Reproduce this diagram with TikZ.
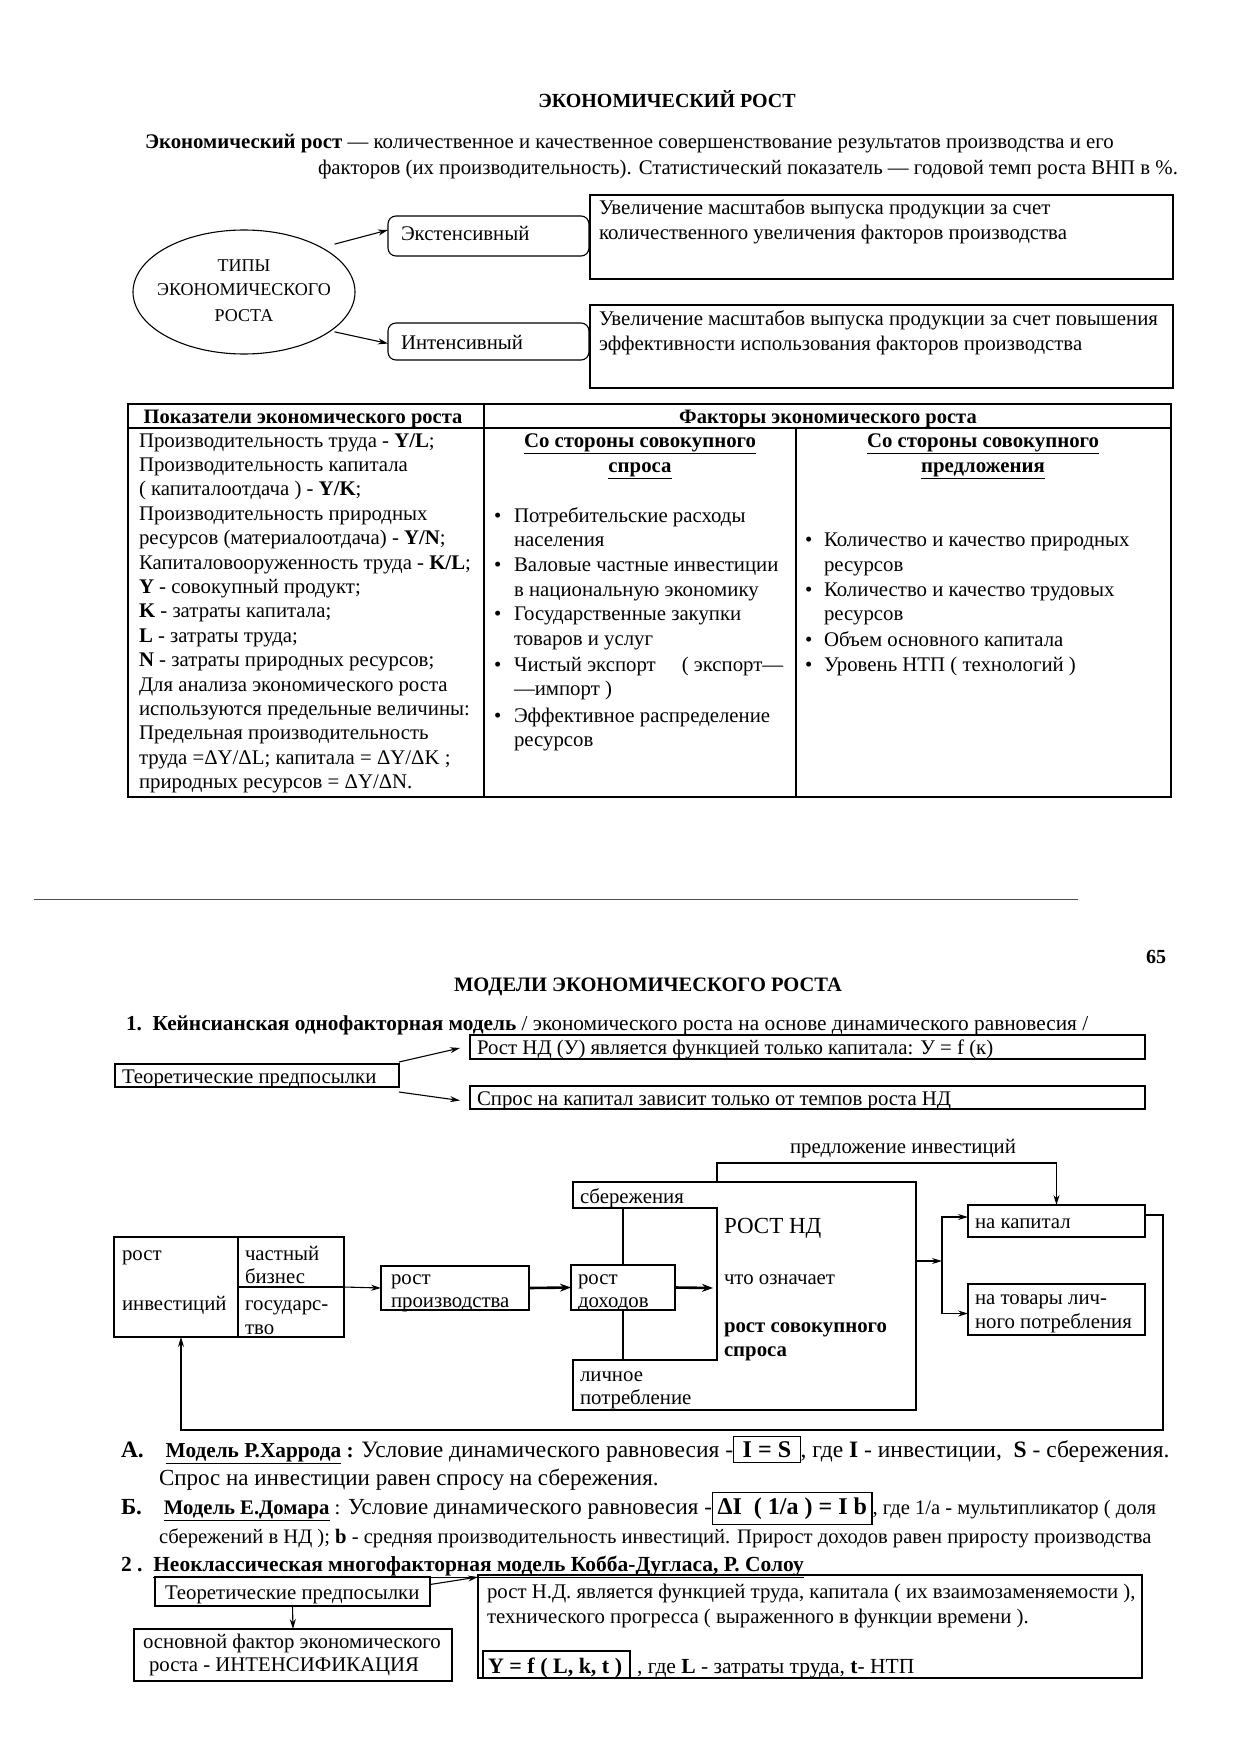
\documentclass[tikz,border=0pt]{standalone}
\usepackage{fontspec}
\setmainfont{Liberation Serif}
\usetikzlibrary{shapes.geometric,arrows.meta,calc}
\setlength\fboxsep{2pt}
\setlength\fboxrule{1.1pt}
\newcommand\bodyfont{\fontsize{20.8}{24}\selectfont}
\newcommand\bigfont{\fontsize{23}{27}\selectfont}
\newcommand\namefont{\fontsize{20.7}{24}\selectfont}
\newcommand\eqbox[1]{{\setlength\fboxsep{4.5pt}\fbox{\fontsize{24}{28}\selectfont\textbf{#1}}}}
\begin{document}
\begin{tikzpicture}[x=1pt,y=-1pt,
  every node/.style={inner sep=0pt, outer sep=0pt},
  txt/.style={anchor=base west, font=\bodyfont},
  ctxt/.style={anchor=base, font=\bodyfont},
  rtxt/.style={anchor=base east, font=\bodyfont},
  box/.style={draw, line width=1.1pt},
  ln/.style={line width=1.1pt},
  arr/.style={-{Stealth[length=10pt,width=6pt]}, line width=1.1pt},
  tharr/.style={-{Stealth[length=11pt,width=8pt]}, line width=2.6pt},
]
\useasboundingbox[fill=white] (0,0) rectangle (1240,1752);

% ---------- Part 1 ----------
\node[ctxt, font=\bfseries\fontsize{20}{24}\selectfont] (title) at (667,108) {ЭКОНОМИЧЕСКИЙ РОСТ};
\node[txt] (def1) at (145,149) {\textbf{Экономический рост} — количественное и качественное совершенствование результатов производства и его};
\node[rtxt] (def2) at (1178,175) {факторов (их производительность). Статистический показатель — годовой темп роста ВНП в \%.};

\node[draw, ellipse, line width=1.1pt, minimum width=222, minimum height=124] (ell) at (244,292) {};
\node[ctxt, font=\fontsize{18}{22}\selectfont] (e1) at (244,272) {ТИПЫ};
\node[ctxt, font=\fontsize{18}{22}\selectfont] (e2) at (244,296) {ЭКОНОМИЧЕСКОГО};
\node[ctxt, font=\fontsize{18}{22}\selectfont] (e3) at (244,321) {РОСТА};

\node[box, rounded corners=8pt, minimum width=201, minimum height=40] (ext) at (488.5,236) {};
\node[txt] (extT) at (401,241) {Экстенсивный};
\node[box, rounded corners=8pt, minimum width=201, minimum height=37] (int) at (488.5,341.5) {};
\node[txt] (intT) at (401,349) {Интенсивный};

\node[box, minimum width=583, minimum height=84] (d1) at (881.5,237) {};
\node[txt] (d1a) at (599,215) {Увеличение масштабов выпуска продукции за счет};
\node[txt] (d1b) at (599,240) {количественного увеличения факторов производства};
\node[box, minimum width=583, minimum height=83] (d2) at (881.5,346.5) {};
\node[txt] (d2a) at (599,325) {Увеличение масштабов выпуска продукции за счет повышения};
\node[txt] (d2b) at (599,350) {эффективности использования факторов производства};

\draw[arr] (ell.north east) ++(12,-4) coordinate (ea) -- ($(ext.west)+(0,-6)$);
\draw[arr] (ell.south east) ++(12,-4) coordinate (eb) -- ($(int.west)+(0,2)$);

% ---------- Table ----------
\draw[line width=1.1pt] (128,404) rectangle (1171,797);
\draw[line width=2pt] (128,404) -- (1171,404);
\draw[line width=2pt] (128,797) -- (1171,797);
\draw[ln] (128,428) -- (1171,428);
\draw[ln] (484,404) -- (484,797);
\draw[ln] (796,428) -- (796,797);

\node[ctxt, font=\bfseries\fontsize{20.5}{24}\selectfont] (h1) at (303,423) {Показатели экономического роста};
\node[ctxt, font=\bfseries\fontsize{20.5}{24}\selectfont] (h2) at (828,423) {Факторы экономического роста};

\node[txt] (L1) at (139,447) {Производительность труда - \textbf{Y/L};};
\node[txt] (L2) at (139,471.4) {Производительность капитала};
\node[txt] (L3) at (139,495.8) {( капиталоотдача ) - \textbf{Y/K};};
\node[txt] (L4) at (139,520.2) {Производительность природных};
\node[txt] (L5) at (139,544.6) {ресурсов (материалоотдача) - \textbf{Y/N};};
\node[txt] (L6) at (139,569) {Капиталовооруженность труда - \textbf{K/L};};
\node[txt] (L7) at (139,593.4) {\textbf{Y} - совокупный продукт;};
\node[txt] (L8) at (139,617.8) {\textbf{K} - затраты капитала;};
\node[txt] (L9) at (139,642.2) {\textbf{L} - затраты труда;};
\node[txt] (L10) at (139,666.6) {\textbf{N} - затраты природных ресурсов;};
\node[txt] (L11) at (139,691) {Для анализа экономического роста};
\node[txt] (L12) at (139,715.4) {используются предельные величины:};
\node[txt] (L13) at (139,739.8) {Предельная производительность};
\node[txt] (L14) at (139,764.2) {труда =ΔY/ΔL; капитала = ΔY/ΔK ;};
\node[txt] (L15) at (139,788.6) {природных ресурсов = ΔY/ΔN.};

\node[ctxt, font=\bfseries\bodyfont] (m1) at (640,447) {\underline{Со стороны совокупного}};
\node[ctxt, font=\bfseries\bodyfont] (m2) at (640,472) {\underline{спроса}};
\node[ctxt, font=\bfseries\bodyfont] (r1h) at (983,447) {\underline{Со стороны совокупного}};
\node[ctxt, font=\bfseries\bodyfont] (r2h) at (983,472) {\underline{предложения}};

\foreach \yy/\nm in {522/b1,571/b2,620/b3,671/b4,722/b5}{\node[txt] (\nm) at (494,\yy) {•};}
\node[txt] (M1) at (514,522) {Потребительские расходы};
\node[txt] (M2) at (514,546) {населения};
\node[txt] (M3) at (514,571) {Валовые частные инвестиции};
\node[txt] (M4) at (514,596) {в национальную экономику};
\node[txt] (M5) at (514,620) {Государственные закупки};
\node[txt] (M6) at (514,645) {товаров и услуг};
\node[txt] (M7) at (514,671) {Чистый экспорт \quad( экспорт—};
\node[txt] (M8) at (514,695) {—импорт )};
\node[txt] (M9) at (514,722) {Эффективное распределение};
\node[txt] (M10) at (514,746) {ресурсов};

\foreach \yy/\nm in {546/c1,596/c2,646/c3,671/c4}{\node[txt] (\nm) at (805,\yy) {•};}
\node[txt] (R1) at (824,546) {Количество и качество природных};
\node[txt] (R2) at (824,571) {ресурсов};
\node[txt] (R3) at (824,596) {Количество и качество трудовых};
\node[txt] (R4) at (824,620) {ресурсов};
\node[txt] (R5) at (824,646) {Объем основного капитала};
\node[txt] (R6) at (824,671) {Уровень НТП ( технологий )};

% separator
\draw[line width=0.8pt, black!70] (34,899) -- (1078,899);

% ---------- Part 2 ----------
\node[ctxt, font=\bfseries\fontsize{20}{24}\selectfont] (pg) at (1156,963) {65};
\node[ctxt, font=\bfseries\fontsize{20.5}{24}\selectfont] (title2) at (648,991) {МОДЕЛИ ЭКОНОМИЧЕСКОГО РОСТА};
\node[txt, font=\fontsize{21.3}{25}\selectfont] (k1) at (126,1030) {\textbf{1.\ \ Кейнсианская однофакторная модель} / экономического роста на основе динамического равновесия /};

\node[box, minimum width=675, minimum height=24] (r1) at (807.5,1047) {};
\node[txt] (r1t) at (477,1054) {Рост НД (У) является функцией только капитала: У = f (к)};
\node[box, minimum width=284, minimum height=23] (tp) at (257,1075.5) {};
\node[txt] (tpt) at (122,1083) {Теоретические предпосылки};
\node[box, minimum width=675, minimum height=23] (r2) at (807.5,1097.5) {};
\node[txt] (r2t) at (477,1105) {Спрос на капитал зависит только от темпов роста НД};
\draw[arr] ($(tp.north east)+(0,-2)$) -- ($(r1.west)+(-10,1)$);
\draw[arr] ($(tp.south east)+(0,5)$) -- ($(r2.west)+(-10,3)$);

% flow
\node[box, minimum width=230, minimum height=100] (inv) at (229,1287) {};
\draw[ln] (238,1237) -- (238,1337);
\draw[ln] (238,1287) -- (344,1287);
\node[txt] (iv1) at (122,1260) {рост};
\node[txt] (iv2) at (122,1310) {инвестиций};
\node[txt] (iv3) at (245,1260) {частный};
\node[txt] (iv4) at (245,1283) {бизнес};
\node[txt] (iv5) at (245,1310) {государс-};
\node[txt] (iv6) at (245,1334) {тво};

\node[box, minimum width=148, minimum height=44] (prod) at (455,1288) {};
\node[txt] (pr1) at (391,1284) {рост};
\node[txt] (pr2) at (391,1307) {производства};
\node[box, minimum width=104, minimum height=45] (doh) at (623,1287.5) {};
\node[txt] (dh1) at (578,1284) {рост};
\node[txt] (dh2) at (578,1307) {доходов};

\draw[ln] (573,1182) -- (916,1182) -- (916,1410) -- (573,1410) -- (573,1360) -- (717,1360) -- (717,1208) -- (573,1208) -- cycle;
\draw[ln] (623,1208) -- (doh.north);
\draw[ln] (doh.south) -- (623,1360);
\node[txt] (sb) at (580,1203) {сбережения};
\node[txt, font=\fontsize{23}{27}\selectfont] (nd) at (724,1233) {РОСТ НД};
\node[txt] (nd2) at (724,1284) {что означает};
\node[txt, font=\bfseries\bodyfont] (nd3) at (724,1332) {рост совокупного};
\node[txt, font=\bfseries\bodyfont] (nd4) at (724,1356) {спроса};
\node[txt] (lp1) at (580,1381) {личное};
\node[txt] (lp2) at (580,1404) {потребление};

\coordinate (ndL) at (713,1288);
\coordinate (ndR) at (916,1261);
\coordinate (br) at (942,1261);
\coordinate (sv) at (717,1182);
\coordinate (ptop) at (900,1163);
\node[ctxt] (pi) at (903,1153) {предложение инвестиций};

\node[box, minimum width=177, minimum height=32] (kap) at (1056.5,1221) {};
\node[txt] (kp) at (975,1228) {на капитал};
\node[box, minimum width=177, minimum height=51] (tov) at (1056.5,1309.5) {};
\node[txt] (tv1) at (975,1304) {на товары лич-};
\node[txt] (tv2) at (975,1328) {ного потребления};

\draw[arr] (inv.east) -- (prod.west);
\draw[tharr] (prod.east) -- (doh.west);
\draw[tharr] (doh.east) -- (ndL);
\draw[arr] (ndR) -- (br);
\draw[arr] (br) |- ($(kap.west)+(0,-4)$);
\draw[arr] (br) |- ($(tov.west)+(0,4)$);
\draw[arr] (sv) |- (ptop) -| (kap.north);
\coordinate (fbR) at (1163,1430);
\coordinate (fbL) at (181,1430);
\draw[arr] ($(kap.east)+(0,-6)$) -| (fbR) -- (fbL) -- (fbL |- inv.south);

% ---------- A, B ----------
\node[txt, font=\fontsize{23.5}{27}\selectfont] (A1) at (121,1457) {\textbf{А.}\hspace{0.93em}{\fontsize{21.3}{25}\selectfont\textbf{\underline{Модель Р.Харрода}} \textbf{:}} Условие динамического равновесия -\eqbox{\,I = S\,}, где \textbf{I} - инвестиции,\ \ \textbf{S} - сбережения.};
\node[txt, font=\bigfont] (A2) at (159,1485) {Спрос на инвестиции равен спросу на сбережения.};
\node[txt, font=\bigfont] (B1) at (121,1514) {\textbf{Б.}\hspace{0.95em}{\namefont\textbf{\underline{Модель Е.Домара}} :} Условие динамического равновесия -\eqbox{ΔI\ \ ( 1/a ) = I b}{\fontsize{20.6}{24}\selectfont, где 1/а - мультипликатор ( доля}};
\node[txt, font=\fontsize{20.6}{24}\selectfont] (B2) at (159,1543) {сбережений в НД ); \textbf{b} - средняя производительность инвестиций. Прирост доходов равен приросту производства};
\node[txt, font=\fontsize{21.5}{25}\selectfont] (N2) at (121,1571) {\textbf{2 .\ \ \underline{Неоклассическая многофакторная модель Кобба-Дугласа, Р. Солоу}}};

\node[box, minimum width=275, minimum height=29] (tp2) at (292.5,1591.5) {};
\node[txt] (tp2t) at (165,1599) {Теоретические предпосылки};
\node[box, minimum width=664, minimum height=103] (b2) at (810,1626.5) {};
\node[txt] (b2a) at (487,1598) {рост Н.Д. является функцией труда, капитала ( их взаимозаменяемости ),};
\node[txt] (b2b) at (487,1623) {технического прогресса ( выраженного в функции времени ).};
\node[box, minimum width=147, minimum height=27] (fm) at (556.5,1664.5) {};
\node[txt, font=\bfseries\fontsize{22}{26}\selectfont] (fmt) at (488,1673) {Y = f ( L, k, t )};
\node[txt, font=\fontsize{21.5}{25}\selectfont] (fm2) at (637,1673) {, где \textbf{L} - затраты труда, \textbf{t}- НТП};
\node[box, minimum width=318, minimum height=52] (ofb) at (293,1655) {};
\node[txt] (of1) at (143,1648) {основной фактор экономического};
\node[txt] (of2) at (149,1671) {роста - ИНТЕНСИФИКАЦИЯ};

\draw[arr] ($(tp2.east)+(0,-7)$) -- ($(b2.west)+(0,-49.5)$);
\draw[arr] (tp2.south) -- (ofb.north);
\end{tikzpicture}
\end{document}
